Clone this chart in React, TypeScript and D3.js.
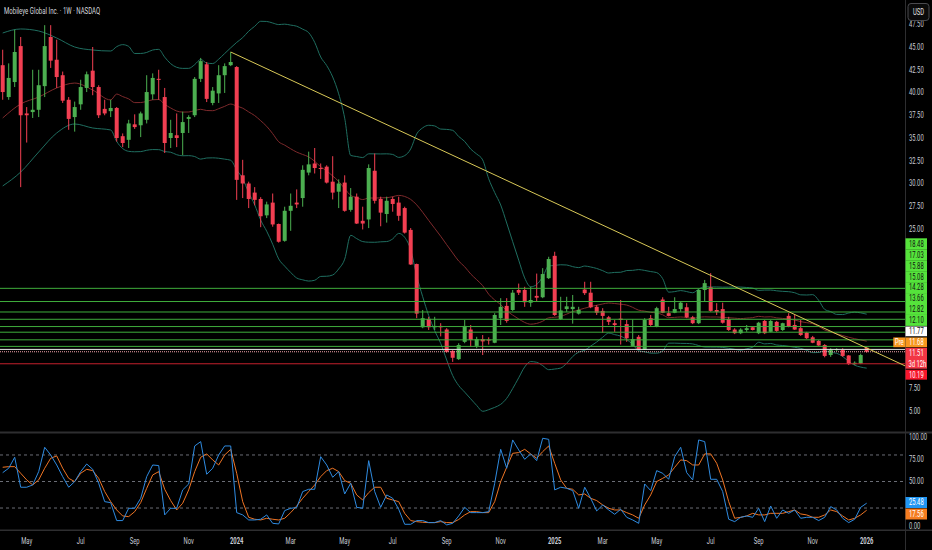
import * as d3 from "d3";

// weekly bars, first = week of 3 Apr 2023, last = week of 5 Jan 2026
const opens = [
  43.0, 39.5, 41.15, 45.1, 37.7, 37.85, 38.1, 40.7, 46.1, 43.6,
  41.9, 39.2, 37.3, 38.7, 40.5, 42.4, 40.6, 38.2, 37.95, 38.3,
  35.2, 34.8, 36.5, 36.4, 37.0, 39.8, 41.5, 39.5, 35.0, 35.3,
  35.55, 37.1, 37.5, 41.5, 43.1, 38.85, 39.9, 41.9, 43.0, 42.8,
  30.9, 30.0, 29.0, 28.3, 26.5, 27.9, 25.55, 23.7, 27.0, 27.9,
  28.4, 31.2, 32.2, 31.7, 31.85, 30.2, 29.1, 30.1, 27.1, 28.55,
  25.9, 26.05, 31.4, 28.3, 26.65, 28.3, 27.9, 27.3, 24.9, 21.15,
  14.2, 15.1, 14.2, 14.35, 13.95, 11.6, 10.7, 12.6, 13.95, 12.15,
  12.9, 12.85, 12.5, 15.2, 16.55, 16.1, 18.3, 18.3, 16.9, 17.65,
  17.5, 19.6, 22.05, 15.1, 16.2, 16.2, 15.7, 18.35, 18.0, 16.45,
  16.0, 15.3, 14.65, 15.15, 14.55, 12.15, 13.15, 11.75, 15.2, 14.25,
  17.25, 15.75, 15.8, 16.2, 16.4, 15.3, 14.65, 18.3, 18.6, 16.1,
  16.2, 15.1, 13.95, 13.55, 13.9, 14.2, 13.55, 14.9, 13.7, 14.8,
  13.9, 15.45, 14.45, 14.1, 13.6, 13.1, 12.7, 12.25, 11.15, 11.75,
  11.7, 11.1, 10.15, 10.2, 11.95,
];
const highs = [
  44.7, 43.2, 46.9, 46.1, 38.4, 42.5, 42.5, 47.4, 47.4, 45.8,
  42.3, 39.5, 39.0, 41.4, 42.3, 45.0, 40.8, 39.2, 39.2, 38.4,
  35.5, 37.0, 37.6, 37.9, 41.9, 42.1, 42.5, 40.5, 37.0, 37.7,
  37.9, 37.5, 41.7, 43.8, 43.35, 40.6, 43.0, 43.2, 44.45, 42.9,
  32.6, 30.2, 29.6, 28.5, 28.0, 28.9, 25.6, 27.45, 28.9, 29.35,
  32.0, 33.5, 33.9, 32.2, 32.0, 33.0, 30.45, 30.9, 29.5, 28.9,
  27.45, 32.1, 33.3, 28.55, 28.55, 28.55, 28.55, 27.45, 25.1, 21.2,
  16.1, 15.35, 15.35, 14.65, 14.1, 11.7, 12.45, 15.0, 14.45, 13.15,
  13.35, 13.1, 15.75, 17.4, 17.4, 18.3, 19.0, 18.65, 18.65, 20.1,
  20.7, 21.95, 22.5, 17.55, 17.55, 17.75, 16.45, 19.2, 19.2, 16.65,
  16.3, 15.45, 15.0, 17.2, 15.0, 15.05, 13.35, 15.2, 15.55, 16.45,
  17.5, 16.45, 17.5, 17.05, 16.85, 15.45, 18.4, 19.4, 20.15, 16.85,
  16.9, 15.35, 14.1, 14.1, 14.45, 14.25, 14.8, 15.0, 15.0, 14.9,
  14.7, 15.75, 15.55, 15.0, 13.7, 13.25, 12.8, 12.35, 11.9, 11.9,
  11.9, 11.15, 10.45, 11.3, 12.05,
];
const lows = [
  39.2, 39.2, 40.6, 29.6, 34.5, 37.2, 37.3, 39.5, 42.7, 40.5,
  38.85, 35.9, 35.7, 38.1, 40.05, 39.7, 37.2, 37.5, 37.3, 34.6,
  34.0, 33.9, 36.0, 35.1, 36.6, 39.2, 39.2, 33.35, 33.9, 34.0,
  33.1, 35.55, 37.3, 41.15, 38.95, 38.6, 38.85, 39.95, 42.9, 28.2,
  28.4, 27.3, 27.6, 25.2, 26.2, 25.25, 23.5, 23.6, 24.8, 27.3,
  27.45, 30.9, 31.1, 30.5, 30.0, 28.25, 27.3, 26.9, 26.9, 25.55,
  24.95, 25.1, 27.8, 25.3, 25.7, 26.9, 25.9, 24.5, 21.05, 15.2,
  14.1, 13.9, 13.9, 13.2, 11.4, 10.4, 10.6, 12.45, 12.05, 11.9,
  11.15, 12.3, 12.45, 14.45, 14.7, 16.0, 17.75, 16.45, 16.45, 17.0,
  17.4, 19.5, 15.45, 15.0, 15.9, 14.6, 15.6, 17.75, 16.3, 15.55,
  13.6, 14.45, 13.7, 12.3, 12.6, 12.1, 11.7, 11.7, 14.25, 14.2,
  15.75, 15.4, 15.75, 15.9, 15.2, 14.55, 14.55, 17.0, 15.9, 15.55,
  14.6, 13.8, 13.45, 13.45, 13.7, 13.85, 13.45, 13.45, 13.65, 13.7,
  13.8, 14.2, 13.9, 13.25, 12.9, 12.45, 12.15, 10.9, 10.95, 11.6,
  10.95, 10.05, 10.05, 10.15, 11.4,
];
const closes = [
  40.05, 41.6, 44.45, 37.5, 37.5, 38.1, 40.8, 45.1, 43.5, 41.7,
  39.1, 37.1, 38.4, 40.6, 42.0, 40.6, 37.5, 37.7, 38.3, 35.0,
  34.45, 36.6, 36.2, 37.7, 40.05, 41.6, 41.4, 34.45, 35.55, 35.0,
  36.75, 37.3, 41.5, 43.45, 39.3, 40.2, 41.9, 42.9, 43.35, 30.4,
  30.0, 28.3, 28.2, 26.4, 27.7, 25.5, 23.6, 27.0, 27.55, 27.7,
  31.5, 32.1, 31.7, 31.6, 30.1, 29.0, 30.0, 27.0, 28.55, 25.6,
  25.6, 31.7, 28.1, 26.8, 28.1, 27.75, 26.45, 24.6, 21.1, 15.7,
  15.2, 14.2, 14.35, 14.2, 11.5, 10.85, 12.25, 14.35, 12.8, 12.9,
  12.65, 12.75, 15.55, 16.45, 14.9, 18.0, 18.0, 16.95, 17.2, 17.45,
  20.05, 21.7, 15.55, 16.05, 16.5, 16.45, 16.1, 17.95, 16.4, 15.8,
  15.45, 14.8, 14.45, 15.0, 13.0, 12.9, 11.75, 15.0, 14.45, 16.3,
  15.8, 15.45, 16.2, 16.9, 15.3, 14.65, 18.3, 19.05, 16.0, 15.9,
  14.7, 13.9, 13.55, 13.95, 14.1, 13.9, 14.7, 13.55, 14.9, 13.8,
  14.65, 14.25, 13.95, 13.35, 13.0, 12.5, 12.2, 11.05, 11.75, 11.8,
  11.05, 10.15, 10.3, 11.15, 11.51,
];

// Stoch RSI %K (blue) and %D (orange)
const stochK = [
  60, 65, 77.4, 43.5, 43.5, 46.1, 61.2, 88.7, 80, 68.7,
  55.5, 43.5, 49.9, 61.2, 69.8, 63.8, 48, 27.2, 26.1, 5.8,
  5.8, 19.7, 19.7, 31, 55.5, 68.7, 68, 12.2, 19.7, 19.7,
  40.5, 47.2, 90.2, 95.1, 58.2, 65, 80, 90.2, 90.2, 14.8,
  12.2, 6.5, 6.5, 7.3, 12.2, 2.7, 2, 17.1, 19.7, 20.5,
  38.6, 41.2, 41.2, 78.1, 68.7, 54.8, 61.2, 35.9, 48, 20.8,
  19.7, 73.6, 38.6, 20.8, 34.8, 31, 18.6, 1.6, 1.6, 5.8,
  5.8, 3.5, 3.5, 5.8, 0.9, 2.7, 11, 20.8, 14.8, 14.8,
  14.8, 15.9, 48, 86.4, 65, 97, 85.7, 75.1, 81.2, 73.6,
  98.9, 97.7, 40.5, 43.5, 42.3, 39.7, 19.7, 43.5, 31, 16.7,
  23.5, 17.8, 12.9, 18.6, 9.5, 6.5, 2.7, 47.2, 39.7, 62.3,
  59.3, 52.5, 78.1, 88.7, 60, 51.8, 97, 95.1, 52.5, 52.5,
  38.6, 7.3, 4.6, 9.5, 11, 9.5, 19.7, 4.6, 22.3, 8.4,
  17.8, 14, 17.8, 8.4, 9.5, 9.5, 5.8, 9.5, 21.6, 17.8,
  8.4, 3.5, 7.3, 20.8, 25.48,
];
const stochD = [
  66.1, 66.8, 66.8, 59.3, 51.8, 46.1, 51.8, 65, 76.3, 78.9,
  65, 53.6, 49.9, 59.3, 63.8, 62.3, 53.6, 38.6, 27.2, 17.8,
  11, 10.3, 15.9, 26.1, 42.3, 57.4, 61.2, 41.2, 28.4, 17.8,
  25.4, 40.5, 61.2, 77.4, 81.2, 74.4, 68.7, 80, 86.4, 59.3,
  27.2, 9.5, 7.3, 6.5, 8.4, 7.3, 6.5, 8.4, 14.8, 22.3,
  31, 38.6, 46.1, 55.5, 62.3, 65, 61.2, 51, 48, 34.8,
  29.1, 37.4, 43.5, 43.5, 31, 29.1, 27.2, 14, 5.8, 4.6,
  3.9, 3.5, 3.5, 4.6, 3.5, 3.5, 7, 12.2, 15.9, 15.9,
  14.8, 14.8, 27.2, 49.9, 66.1, 81.9, 82.7, 86.4, 81.2, 76.3,
  83.8, 90.2, 70.6, 51.8, 42.3, 41.2, 34.8, 35.9, 31, 28.4,
  23.5, 19.7, 17.8, 17.8, 14.8, 12.2, 8.4, 23.5, 34.8, 49.9,
  53.6, 57.4, 66.1, 74.4, 73.6, 68.7, 68.7, 81.2, 81.2, 70.6,
  51.8, 27.2, 8.4, 9.5, 11, 14, 12.2, 12.2, 14, 14,
  14, 15.9, 17.8, 13.3, 12.2, 9.5, 9.5, 12.2, 17.8, 15.9,
  11, 6.5, 8.4, 12.2, 17.56,
];

// Bollinger band for the first weeks (window not yet full)
const bbEarlyBars = [0, 3, 6, 9, 12, 15, 18];
const bbEarlyUpper = [46.54, 46.98, 46.76, 45.99, 45.0, 44.67, 44.56];
const bbEarlyBasis = [37.2, 38.74, 39.5, 40.5, 41.04, 40.27, 39.18];
const bbEarlyLower = [29.73, 31.26, 33.46, 35.55, 36.54, 36.1, 35.88];

const greenLevels = [18.48, 17.03, 15.88, 15.08, 14.28, 13.66, 12.82, 12.1];
const whiteLevel = 11.77;
const preLevel = 11.68;
const lastPrice = 11.51;
const redLevel = 10.19;
const countdown = "3d 12h";

const trendAnchors = [
  { bar: 38, price: 44.45 },
  { bar: 118, price: 19.9 },
];

const tickBars = [4, 13, 22, 31, 39, 48, 57, 65, 74, 83, 92, 100, 109, 118, 126, 135, 144];
const tickLabels = ["May", "Jul", "Sep", "Nov", "2024", "Mar", "May", "Jul", "Sep", "Nov", "2025", "Mar", "May", "Jul", "Sep", "Nov", "2026"];
const priceTicks = [47.5, 45, 42.5, 40, 37.5, 35, 32.5, 30, 27.5, 25, 22.5, 20, 17.5, 15, 12.5, 10, 7.5, 5];
const stochTicks = [100, 75, 50, 25, 0];
const stochBands = [80, 50, 20];

const W = 932;
const H = 550;
const paneR = 905;
const mainBottom = 431.5;
const stochTop = 433.5;
const stochBottom = 529.5;
const SX = 0.68;
const FONT = "Roboto, 'Liberation Sans', sans-serif";

const UP = "#4caf50";
const DOWN = "#f23f52";

function Label(props: {
  x: number;
  y: number;
  text: string;
  size?: number;
  fill?: string;
  anchor?: "start" | "middle" | "end";
  weight?: number;
  sx?: number;
}) {
  return (
    <g transform={`translate(${props.x},${props.y}) scale(${props.sx ?? SX},1)`}>
      <text
        fontFamily={FONT}
        fontSize={props.size ?? 8.6}
        fill={props.fill ?? "#c9ccd4"}
        textAnchor={props.anchor ?? "start"}
        fontWeight={props.weight ?? 400}
        dominantBaseline="central"
      >
        {props.text}
      </text>
    </g>
  );
}

export default function App() {
  const x = d3.scaleLinear().domain([0, 144]).range([2.7, 866.7]);
  const y = d3.scaleLinear().domain([5, 45]).range([411, 47]);
  const ys = d3.scaleLinear().domain([0, 100]).range([525.7, 437.3]);

  // Bollinger (20, 2) on closes
  const bb: { i: number; up: number; mid: number; lo: number }[] = bbEarlyBars.map((b, k) => ({
    i: b,
    up: bbEarlyUpper[k],
    mid: bbEarlyBasis[k],
    lo: bbEarlyLower[k],
  }));
  for (let i = 19; i < closes.length; i++) {
    const win = closes.slice(i - 19, i + 1);
    const m = d3.mean(win) as number;
    const sd = Math.sqrt(d3.mean(win, (v) => (v - m) ** 2) as number);
    bb.push({ i, up: m + 2 * sd, mid: m, lo: m - 2 * sd });
  }
  const bbLine = (key: "up" | "mid" | "lo") =>
    d3
      .line<{ i: number; up: number; mid: number; lo: number }>()
      .x((d) => x(d.i))
      .y((d) => y(d[key]))
      .curve(d3.curveMonotoneX)(bb) as string;

  const stochLine = (vals: number[]) =>
    d3
      .line<number>()
      .x((_, i) => x(i))
      .y((d) => ys(d))(vals) as string;

  const [a, b] = trendAnchors;
  const slope = (b.price - a.price) / (b.bar - a.bar);
  const endBar = x.invert(paneR);
  const trendEnd = a.price + slope * (endBar - a.bar);

  const bodyW = 4;

  // right axis badges, stacked
  const stackTop = 238.3;
  const slot = 10.95;
  const stackBottom = stackTop + 13 * slot;
  const badgeX = paneR + 0.5;
  const badgeW = 21.5;
  const kTop = 497;
  const dBottom = 519.5;

  // axis labels hidden behind the badges, as on the original
  const visiblePrice = priceTicks.filter((p) => y(p) < stackTop - 4 || y(p) > stackBottom + 4);
  const visibleStoch = stochTicks.filter((v) => ys(v) < kTop - 4 || ys(v) > dBottom + 4);

  return (
    <svg
      width={W}
      height={H}
      style={{ position: "fixed", left: 0, top: 0, background: "#000" }}
    >
      <defs>
        <clipPath id="mainClip">
          <rect x={0} y={0} width={paneR} height={mainBottom} />
        </clipPath>
        <clipPath id="stochClip">
          <rect x={0} y={stochTop} width={paneR} height={stochBottom - stochTop} />
        </clipPath>
      </defs>
      <rect x={0} y={0} width={W} height={H} fill="#000" />

      {/* main pane */}
      <g clipPath="url(#mainClip)">
        <path d={bbLine("up")} fill="none" stroke="#1f6e60" strokeWidth={1} />
        <path d={bbLine("lo")} fill="none" stroke="#1f6e60" strokeWidth={1} />
        <path d={bbLine("mid")} fill="none" stroke="#7e2a2c" strokeWidth={1} />

        {closes.map((c, i) => {
          const o = opens[i];
          const hi = Math.max(highs[i], o, c);
          const lo = Math.min(lows[i], o, c);
          const col = c >= o ? UP : DOWN;
          const top = y(Math.max(o, c));
          const bot = y(Math.min(o, c));
          return (
            <g key={i}>
              <line x1={x(i)} x2={x(i)} y1={y(hi)} y2={y(lo)} stroke={col} strokeWidth={1} />
              <rect
                x={x(i) - bodyW / 2}
                y={top}
                width={bodyW}
                height={Math.max(1, bot - top)}
                fill={col}
              />
            </g>
          );
        })}

        {greenLevels.map((p) => (
          <line key={p} x1={0} x2={paneR} y1={y(p)} y2={y(p)} stroke="#3fae3c" strokeWidth={1} />
        ))}
        <line x1={0} x2={paneR} y1={y(whiteLevel)} y2={y(whiteLevel)} stroke="#e6e6e6" strokeWidth={1} />
        <line x1={0} x2={paneR} y1={y(lastPrice)} y2={y(lastPrice)} stroke="#f0a0aa" strokeWidth={1} strokeDasharray="1 1" />
        <line x1={0} x2={paneR} y1={y(redLevel)} y2={y(redLevel)} stroke="#c4202c" strokeWidth={1} />
        <line
          x1={x(a.bar)}
          y1={y(a.price)}
          x2={paneR}
          y2={y(trendEnd)}
          stroke="#d8c857"
          strokeWidth={1}
        />
      </g>

      {/* title */}
      <Label x={4} y={11} text="Mobileye Global Inc. · 1W · NASDAQ" size={8.2} fill="#d6d8de" sx={0.74} />

      {/* stoch pane */}
      <g clipPath="url(#stochClip)">
        {stochBands.map((v) => (
          <line
            key={v}
            x1={0}
            x2={paneR}
            y1={ys(v)}
            y2={ys(v)}
            stroke="#6a6d75"
            strokeWidth={1}
            strokeDasharray="3 3"
          />
        ))}
        <path d={stochLine(stochD)} fill="none" stroke="#ee7424" strokeWidth={1} />
        <path d={stochLine(stochK)} fill="none" stroke="#2f8be0" strokeWidth={1} />
      </g>

      {/* separators */}
      <rect x={0} y={mainBottom} width={W} height={2} fill="#2e2e30" />
      <rect x={0} y={stochBottom} width={W} height={1.5} fill="#2e2e30" />
      <line x1={paneR + 0.5} x2={paneR + 0.5} y1={0} y2={H} stroke="#2e2e30" strokeWidth={1} />

      {/* price axis labels */}
      {visiblePrice.map((p) => (
        <Label key={p} x={909} y={y(p)} text={p.toFixed(2)} />
      ))}
      {visibleStoch.map((v) => (
        <Label key={v} x={909} y={ys(v)} text={v.toFixed(2)} />
      ))}

      {/* time axis */}
      {tickBars.map((bi, k) => (
        <Label
          key={k}
          x={x(bi)}
          y={541}
          text={tickLabels[k]}
          anchor="middle"
          weight={tickLabels[k].length === 4 ? 700 : 400}
        />
      ))}

      {/* USD badge */}
      <rect x={908} y={3.5} width={21} height={17} rx={3} fill="#0a0a0a" stroke="#4a4a4e" strokeWidth={1} />
      <Label x={918.5} y={12.2} text="USD" anchor="middle" fill="#e0e0e0" />

      {/* level badges */}
      {greenLevels.map((p, k) => (
        <g key={p}>
          <rect x={badgeX} y={stackTop + k * slot} width={badgeW} height={slot} fill="#55e33b" />
          <Label x={badgeX + 3.5} y={stackTop + k * slot + slot / 2} text={p.toFixed(2)} fill="#111" />
        </g>
      ))}
      <rect x={badgeX} y={stackTop + 8 * slot + 0.6} width={badgeW} height={slot - 1.2} fill="#ffffff" />
      <Label x={badgeX + 3.5} y={stackTop + 8.5 * slot} text={whiteLevel.toFixed(2)} fill="#111" />

      <rect x={893.3} y={stackTop + 9 * slot + 0.6} width={12} height={slot - 1.2} fill="#f7971e" />
      <Label x={899.3} y={stackTop + 9.5 * slot} text="Pre" anchor="middle" fill="#fff" />
      <rect x={badgeX} y={stackTop + 9 * slot + 0.6} width={badgeW} height={slot - 1.2} fill="#f7971e" />
      <Label x={badgeX + 3.5} y={stackTop + 9.5 * slot} text={preLevel.toFixed(2)} fill="#fff" />

      <rect x={badgeX} y={stackTop + 10 * slot} width={badgeW} height={slot * 2 - 1} fill="#f23645" />
      <Label x={badgeX + 3.5} y={stackTop + 10.5 * slot} text={lastPrice.toFixed(2)} fill="#fff" />
      <Label x={badgeX + 3} y={stackTop + 11.45 * slot} text={countdown} fill="#fff" />

      <rect x={badgeX} y={stackTop + 12 * slot} width={badgeW} height={slot - 1} fill="#f7162c" />
      <Label x={badgeX + 3.5} y={stackTop + 12.45 * slot} text={redLevel.toFixed(2)} fill="#fff" />

      {/* stoch badges */}
      <rect x={badgeX} y={kTop} width={badgeW} height={11} fill="#2196f3" />
      <Label x={badgeX + 3.5} y={kTop + 5.5} text={stochK[stochK.length - 1].toFixed(2)} fill="#fff" />
      <rect x={badgeX} y={dBottom - 11} width={badgeW} height={11} fill="#f57c1f" />
      <Label x={badgeX + 3.5} y={dBottom - 5.5} text={stochD[stochD.length - 1].toFixed(2)} fill="#fff" />
    </svg>
  );
}
